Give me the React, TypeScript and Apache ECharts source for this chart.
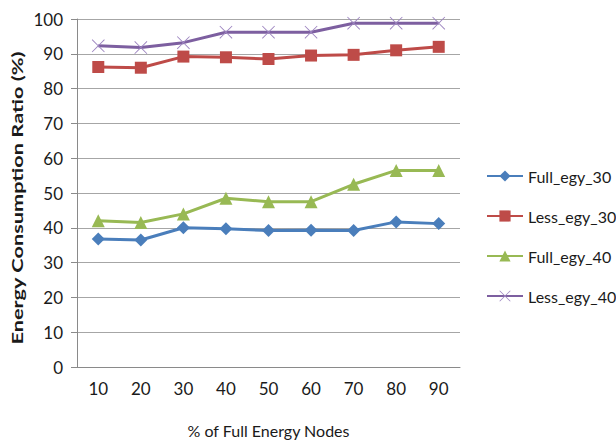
import React, { useEffect, useRef } from "react";
import * as echarts from "echarts";

const categories = ["10", "20", "30", "40", "50", "60", "70", "80", "90"];
const fullEgy30 = [36.8, 36.5, 40.0, 39.7, 39.2, 39.3, 39.2, 41.7, 41.2];
const lessEgy30 = [86.2, 86.0, 89.2, 89.0, 88.5, 89.5, 89.7, 91.0, 92.0];
const fullEgy40 = [42.0, 41.5, 44.0, 48.5, 47.5, 47.5, 52.5, 56.5, 56.5];
const lessEgy40 = [92.3, 91.8, 93.2, 96.2, 96.2, 96.2, 98.8, 98.8, 98.8];
const seriesNames = ["Full_egy_30", "Less_egy_30", "Full_egy_40", "Less_egy_40"];
const yTitle = "Energy Consumption Ratio (%)";
const xTitle = "% of Full Energy Nodes";

const xPath =
  "path://M0,1L1,0L10,9L19,0L20,1L11,10L20,19L19,20L10,11L1,20L0,19L9,10Z";

export default function App() {
  const ref = useRef<HTMLDivElement>(null);
  useEffect(() => {
    if (!ref.current) return;
    const chart = echarts.init(ref.current, null, { renderer: "svg" });
    const font = "Lato";
    const mk = (name: string, data: number[], color: string, symbol: string, size: number, symColor?: string) => ({
      name,
      type: "line",
      data,
      symbol,
      symbolSize: size,
      lineStyle: { color, width: 3 },
      itemStyle: { color: symColor || color },
      emphasis: { disabled: true },
    });
    chart.setOption({
      animation: false,
      textStyle: { fontFamily: font },
      grid: { left: 77, right: 156, top: 19, bottom: 66 },
      legend: {
        orient: "vertical",
        left: 481,
        top: 163,
        itemWidth: 36,
        itemHeight: 14,
        itemGap: 24,
        textStyle: { fontFamily: font, fontSize: 16, color: "#1a1a1a", lineHeight: 14 },
        data: seriesNames,
      },
      graphic: [
        {
          type: "text",
          x: 17,
          y: 198,
          rotation: Math.PI / 2,
          scaleX: 1.45,
          scaleY: 1,
          style: {
            text: yTitle,
            fontFamily: font,
            fontSize: 15,
            fontWeight: "bold",
            fill: "#1a1a1a",
            align: "center",
            verticalAlign: "middle",
          },
        },
      ],
      xAxis: {
        type: "category",
        data: categories,
        boundaryGap: true,
        axisLine: { show: true, lineStyle: { color: "#8a8a8a", width: 1 } },
        axisTick: { show: false },
        axisLabel: { fontFamily: font, fontSize: 17, color: "#1a1a1a", margin: 13 },
        name: xTitle,
        nameLocation: "middle",
        nameGap: 55,
        nameTextStyle: { fontFamily: font, fontSize: 16, color: "#1a1a1a" },
      },
      yAxis: {
        type: "value",
        min: 0,
        max: 100,
        interval: 10,
        axisLine: { show: true, lineStyle: { color: "#8a8a8a", width: 1 } },
        axisTick: { show: true, length: 6, lineStyle: { color: "#8a8a8a" } },
        axisLabel: { fontFamily: font, fontSize: 17, color: "#1a1a1a", margin: 14 },
        splitLine: { show: true, lineStyle: { color: "#a6a6a6", width: 1.2 } },
      },
      series: [
        mk(seriesNames[0], fullEgy30, "#4a7ebb", "diamond", 13),
        mk(seriesNames[1], lessEgy30, "#be4b48", "rect", 12),
        mk(seriesNames[2], fullEgy40, "#98b954", "triangle", 13),
        mk(seriesNames[3], lessEgy40, "#7d5fa0", xPath, 13, "#9d85c0"),
      ],
    });
    return () => chart.dispose();
  }, []);
  return <div ref={ref} style={{ position: "absolute", left: 0, top: 0, width: 616, height: 443 }} />;
}
